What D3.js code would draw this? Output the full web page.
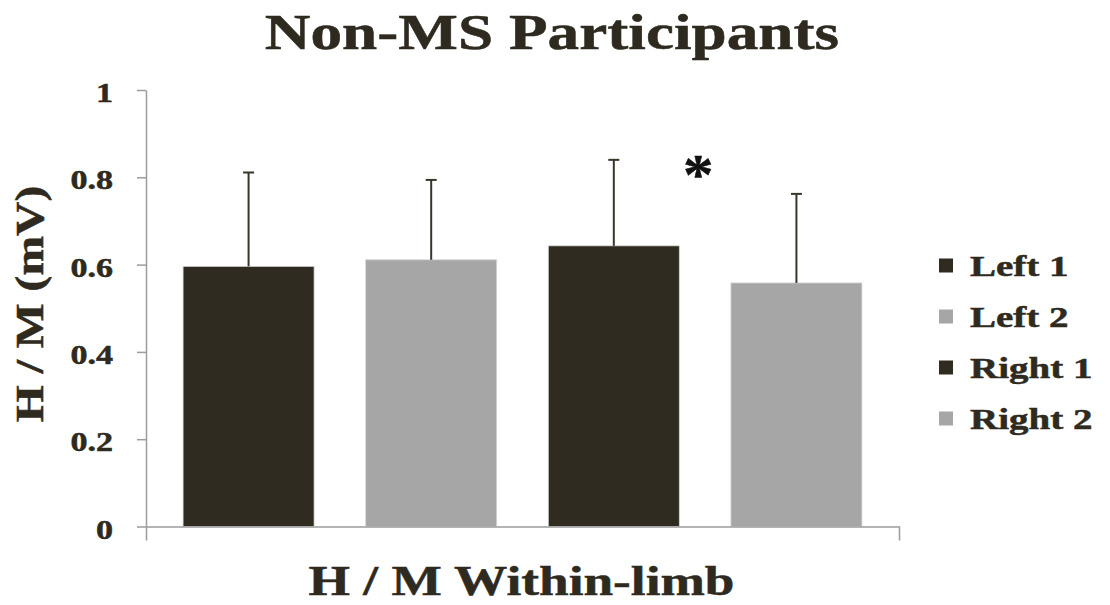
<!DOCTYPE html>
<html>
<head>
<meta charset="utf-8">
<script src="https://cdn.jsdelivr.net/npm/d3@7"></script>
<style>
  html, body { margin: 0; padding: 0; background: #ffffff; }
  svg { display: block; }
  text { font-family: "Liberation Serif", "Times New Roman", serif; font-weight: bold; fill: #2e2a20; stroke: #2e2a20; stroke-width: 0.5px; }
</style>
</head>
<body>
<svg id="chart" width="1110" height="605"></svg>
<script>
// Group labels, means and upper error (SD) for each limb/session
const series = ["Left 1", "Left 2", "Right 1", "Right 2"];
const means = [0.596, 0.611, 0.643, 0.558];
const errors = [0.215, 0.183, 0.197, 0.204];
const yTicks = [0, 0.2, 0.4, 0.6, 0.8, 1];
const seriesColors = ["#302b21", "#a6a6a6", "#302b21", "#a6a6a6"];

const titleText = "Non-MS Participants";
const xTitleText = "H / M Within-limb";
const yTitleText = "H / M (mV)";
const markerText = "*";

const svg = d3.select("#chart");
const plot = { left: 146, right: 899, top: 90, bottom: 526.5 };
const stretch = 1.24;          // wide serif lettering

const y = d3.scaleLinear().domain([0, 1]).range([plot.bottom, plot.top]);
const xOuter = d3.scaleBand().domain([""]).range([plot.left, plot.right]);
const x = d3.scaleBand().domain(series).range([plot.left, plot.right])
  .paddingInner(0.2826).paddingOuter(0.203);

// Bars
svg.append("g").selectAll("rect")
  .data(series)
  .join("rect")
  .attr("x", d => x(d))
  .attr("y", (d, i) => y(means[i]))
  .attr("width", x.bandwidth())
  .attr("height", (d, i) => y(0) - y(means[i]))
  .attr("fill", (d, i) => seriesColors[i])
  .attr("stroke", "#d6d6d6")
  .attr("stroke-width", 0.8);

// Upper error bars
const eb = svg.append("g").attr("stroke", "#3a352b").attr("stroke-width", 2);
series.forEach((s, i) => {
  const cx = x(s) + x.bandwidth() / 2;
  eb.append("line").attr("x1", cx).attr("x2", cx)
    .attr("y1", y(means[i])).attr("y2", y(means[i] + errors[i]));
  eb.append("line").attr("x1", cx - 5.5).attr("x2", cx + 5.5)
    .attr("y1", y(means[i] + errors[i])).attr("y2", y(means[i] + errors[i]));
});

// Y axis
const yAxis = svg.append("g")
  .attr("transform", `translate(${plot.left},0)`)
  .call(d3.axisLeft(y).tickValues(yTicks).tickFormat(d3.format("~g"))
    .tickSize(9).tickSizeOuter(0));
yAxis.selectAll("path, line").attr("stroke", "#9c9c9c").attr("stroke-width", 1.5);
yAxis.selectAll("text")
  .attr("x", null).attr("dy", null)
  .attr("text-anchor", "end")
  .attr("transform", `translate(-33,11.5) scale(${stretch},1)`)
  .style("font-size", "27.5px")
  .style("font-family", "'Liberation Serif', serif")
  .style("font-weight", "bold")
  .attr("fill", "#2e2a20");

// X axis (single category frame with end ticks)
const xAxis = svg.append("g")
  .attr("transform", `translate(0,${plot.bottom})`)
  .call(d3.axisBottom(xOuter).tickSize(0).tickSizeOuter(14).tickFormat(""));
xAxis.selectAll("path, line").attr("stroke", "#9c9c9c").attr("stroke-width", 1.5);

// Significance marker
svg.append("text")
  .attr("transform", `translate(${x("Right 1") + x.bandwidth() + 19},194) scale(1.05,1)`)
  .attr("text-anchor", "middle")
  .style("font-size", "58px")
  .style("fill", "#111").style("stroke", "#111")
  .text(markerText);

// Title
svg.append("text")
  .attr("transform", `translate(552,49) scale(${stretch},1)`)
  .attr("text-anchor", "middle")
  .style("font-size", "51px")
  .text(titleText);

// X axis title
svg.append("text")
  .attr("transform", `translate(${(plot.left + plot.right) / 2 - 1},595) scale(${stretch},1)`)
  .attr("text-anchor", "middle")
  .style("font-size", "43px")
  .text(xTitleText);

// Y axis title
svg.append("text")
  .attr("transform", `translate(43,304) rotate(-90) scale(1.22,1)`)
  .attr("text-anchor", "middle")
  .style("font-size", "39px")
  .text(yTitleText);

// Legend
const legend = svg.append("g");
series.forEach((s, i) => {
  const rowY = 265.5 + i * 51;
  legend.append("rect")
    .attr("x", 939).attr("y", rowY - 7)
    .attr("width", 14).attr("height", 14)
    .attr("fill", seriesColors[i]);
  legend.append("text")
    .attr("transform", `translate(970,${rowY + 10.5}) scale(1.3,1)`)
    .style("font-size", "30px")
    .text(s);
});
</script>
</body>
</html>
